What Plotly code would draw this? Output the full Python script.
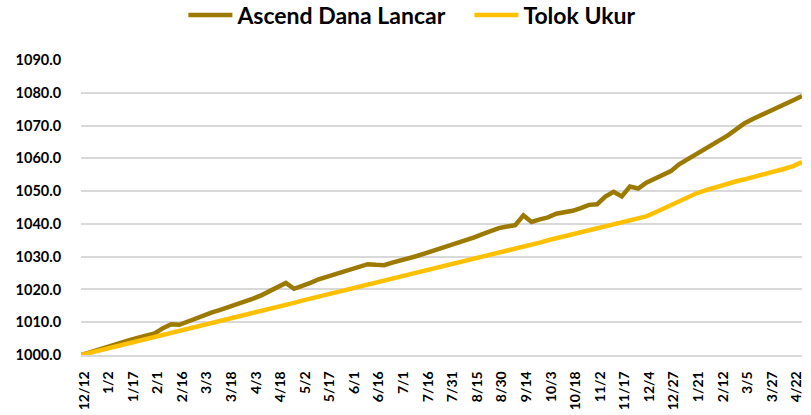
import plotly.graph_objects as go

dates = ["2022-12-12","2022-12-19","2022-12-26","2023-01-02","2023-01-07","2023-01-12",
         "2023-01-17","2023-01-22","2023-01-27","2023-02-01","2023-02-06","2023-02-11",
         "2023-02-16","2023-02-21","2023-02-26","2023-03-03","2023-03-08","2023-03-13",
         "2023-03-18","2023-03-23","2023-03-28","2023-04-03","2023-04-08","2023-04-13",
         "2023-04-18","2023-04-23","2023-04-27","2023-05-02","2023-05-07","2023-05-12",
         "2023-05-17","2023-05-22","2023-05-27","2023-06-01","2023-06-06","2023-06-11",
         "2023-06-16","2023-06-21","2023-06-26","2023-07-01","2023-07-06","2023-07-11",
         "2023-07-16","2023-07-21","2023-07-26","2023-07-31","2023-08-05","2023-08-10",
         "2023-08-15","2023-08-20","2023-08-25","2023-08-30","2023-09-04","2023-09-09",
         "2023-09-14","2023-09-20","2023-09-27","2023-10-03","2023-10-08","2023-10-13",
         "2023-10-18","2023-10-23","2023-10-28","2023-11-02","2023-11-07","2023-11-12",
         "2023-11-17","2023-11-23","2023-11-28","2023-12-04","2023-12-12","2023-12-19",
         "2023-12-27","2024-01-04","2024-01-12","2024-01-21","2024-01-28","2024-02-04",
         "2024-02-12","2024-02-19","2024-02-26","2024-03-05","2024-03-12","2024-03-19",
         "2024-03-27","2024-04-04","2024-04-12","2024-04-22","2024-04-29"]

ascend = [1000.0, 1000.8, 1001.6, 1002.5, 1003.2, 1003.9,
          1004.6, 1005.3, 1005.9, 1006.6, 1008.2, 1009.4,
          1009.2, 1010.2, 1011.2, 1012.2, 1013.0, 1013.8,
          1014.6, 1015.6, 1016.4, 1017.2, 1018.2, 1019.5,
          1020.8, 1022.0, 1020.2, 1021.0, 1022.0, 1023.1,
          1023.9, 1024.8, 1025.5, 1026.3, 1027.2, 1027.7,
          1027.5, 1027.4, 1028.2, 1028.8, 1029.4, 1030.2,
          1031.0, 1031.8, 1032.6, 1033.3, 1034.1, 1035.1,
          1035.9, 1036.9, 1037.8, 1038.7, 1039.2, 1039.6,
          1042.6, 1040.6, 1041.4, 1042.0, 1043.1, 1043.5,
          1044.0, 1044.8, 1045.8, 1046.0, 1048.3, 1049.8,
          1048.4, 1051.4, 1050.8, 1052.6, 1053.8, 1055.0,
          1056.1, 1058.2, 1059.7, 1060.9, 1062.6, 1064.0,
          1065.3, 1067.1, 1068.9, 1070.7, 1072.0, 1073.1,
          1074.4, 1075.4, 1076.6, 1077.8, 1079.0]

tolok = [1000.0, 1000.6, 1001.2, 1001.8, 1002.5, 1003.1,
         1003.7, 1004.3, 1004.9, 1005.5, 1006.1, 1006.7,
         1007.4, 1008.0, 1008.6, 1009.2, 1009.8, 1010.4,
         1011.0, 1011.7, 1012.3, 1012.9, 1013.5, 1014.1,
         1014.7, 1015.3, 1015.9, 1016.6, 1017.2, 1017.8,
         1018.4, 1019.0, 1019.6, 1020.2, 1020.9, 1021.5,
         1022.1, 1022.7, 1023.3, 1023.9, 1024.5, 1025.1,
         1025.8, 1026.4, 1027.0, 1027.6, 1028.2, 1028.8,
         1029.4, 1030.1, 1030.7, 1031.3, 1031.9, 1032.5,
         1033.1, 1033.7, 1034.3, 1035.0, 1035.6, 1036.2,
         1036.8, 1037.4, 1038.0, 1038.6, 1039.3, 1039.9,
         1040.5, 1041.1, 1041.7, 1042.3, 1043.4, 1044.6,
         1045.8, 1047.0, 1048.2, 1049.2, 1050.1, 1050.9,
         1051.6, 1052.3, 1053.0, 1053.6, 1054.2, 1054.8,
         1055.4, 1056.1, 1056.9, 1057.7, 1058.9]

tick_labels = ["12/12","1/2","1/17","2/1","2/16","3/3","3/18","4/3","4/18","5/2",
               "5/17","6/1","6/16","7/1","7/16","7/31","8/15","8/30","9/14","10/3",
               "10/18","11/2","11/17","12/4","12/27","1/21","2/12","3/5","3/27","4/22"]
tick_dates = dates[0::3]

FONT = "Lato, sans-serif"

fig = go.Figure()
fig.add_trace(go.Scatter(x=dates, y=ascend, mode="lines", name="Ascend Dana Lancar",
                         line=dict(color="#9C7A00", width=4.5)))
fig.add_trace(go.Scatter(x=dates, y=tolok, mode="lines", name="Tolok Ukur",
                         line=dict(color="#FFC000", width=4.5)))

fig.update_layout(
    width=811, height=415,
    margin=dict(l=81, r=9, t=60, b=60, autoexpand=False),
    paper_bgcolor="white", plot_bgcolor="white",
    font=dict(family=FONT, color="#000000"),
    legend=dict(orientation="h", x=0.142, xanchor="left", y=1.152, yanchor="middle",
                font=dict(family=FONT, size=23, weight="bold"),
                itemwidth=44, entrywidth=227, entrywidthmode="pixels",
                bgcolor="rgba(0,0,0,0)"),
    xaxis=dict(type="category", tickmode="array", tickvals=tick_dates, ticktext=tick_labels,
               tickangle=-90, tickfont=dict(family=FONT, size=14, weight="bold"),
               showgrid=False, showline=True, linecolor="#D9D9D9", linewidth=1.5,
               zeroline=False, range=[0, len(dates) - 1], automargin=False,
               ticks="outside", ticklen=9, tickcolor="rgba(0,0,0,0)", ticklabelshift=3),
    yaxis=dict(range=[1000, 1090], dtick=10, tick0=1000, tickformat=".1f",
               tickfont=dict(family=FONT, size=14.5, weight="bold"), automargin=False,
               gridcolor="#D9D9D9", gridwidth=1.5, zeroline=False, showline=False,
               ticks="outside", ticklen=16, tickcolor="rgba(0,0,0,0)"),
)

fig.write_html("out.html", config={"displayModeBar": False},
               post_script="document.body.style.margin='0';document.body.style.padding='0';")
